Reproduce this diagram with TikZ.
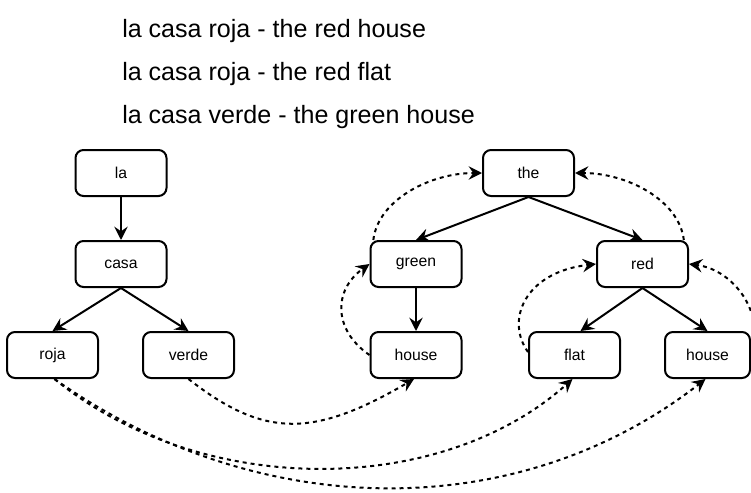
\documentclass[tikz,border=0pt]{standalone}
\usepackage{fontspec}
\setmainfont{Liberation Sans}
\usetikzlibrary{arrows.meta}
\tikzset{
  wbox/.style={draw, rounded corners=6pt, line width=1.5pt, minimum width=68.25pt, minimum height=34.5pt, inner sep=0pt, font=\fontsize{11.8}{14}\selectfont},
  tree/.style={line width=1.5pt, -{Stealth[length=10pt,width=10pt,inset=3.5pt]}},
  link/.style={line width=1.5pt, dash pattern=on 3pt off 3pt, -{Stealth[length=10pt,width=10pt,inset=3.5pt]}},
  hdr/.style={anchor=base west, inner sep=0pt, font=\fontsize{18.8}{22}\selectfont}
}
\begin{document}
\begin{tikzpicture}[x=0.75pt,y=-0.75pt]
\useasboundingbox (0,0) rectangle (751,493);
% header lines
\node[hdr] (t1) at (122,37) {la casa roja - the red house};
\node[hdr] (t2) at (122,80) {la casa roja - the red flat};
\node[hdr] (t3) at (122,123) {la casa verde - the green house};
% left tree
\node[wbox] (la) at (121,173) {la};
\node[wbox] (casa) at (121,264) {casa};
\node[wbox] (roja) at (52.5,355) {roja};
\node[wbox] (verde) at (188.5,355) {verde};
% right tree
\node[wbox] (the) at (528.5,173) {the};
\node[wbox] (green) at (416,264) {green};
\node[wbox] (red) at (642.5,264) {red};
\node[wbox] (hg) at (416,355) {house};
\node[wbox] (flat) at (574.5,355) {flat};
\node[wbox, minimum width=63.75pt] (hr) at (707.5,355) {house};
% tree edges
\draw[tree] (la) -- (casa);
\draw[tree] (casa.south) -- (roja.north);
\draw[tree] (casa.south) -- (verde.north);
\draw[tree] (the.south) -- (green.north);
\draw[tree] (the.south) -- (red.north);
\draw[tree] (green) -- (hg);
\draw[tree] (red.south) -- ([xshift=4.5pt]flat.north);
\draw[tree] (red.south) -- (hr.north);
% alignment links (bottom)
\draw[link] (verde.south) .. controls (264,438) and (313,438) .. ([xshift=-1.5pt]hg.south);
\draw[link] ([xshift=1.5pt]roja.south) .. controls (200,498) and (440,498) .. ([xshift=-1.5pt]flat.south);
\draw[link] ([xshift=1.5pt]roja.south) .. controls (260,524) and (520,524) .. ([xshift=-1.5pt]hr.south);
% alignment links (upper, right tree)
\draw[link] (hg.west) .. controls (333,330) and (333,290) .. (green.west);
\draw[link] ([xshift=-32pt]green.north) .. controls (378,200) and (430,173) .. (the.west);
\draw[link] ([xshift=31pt]red.north) .. controls (679,200) and (627,173) .. (the.east);
\draw[link] ([yshift=2.25pt]flat.west) .. controls (505,320) and (525,272) .. (red.west);
\draw[link] ([yshift=3.75pt]hr.east) .. controls (765,315) and (735,270) .. (red.east);
\end{tikzpicture}
\end{document}
